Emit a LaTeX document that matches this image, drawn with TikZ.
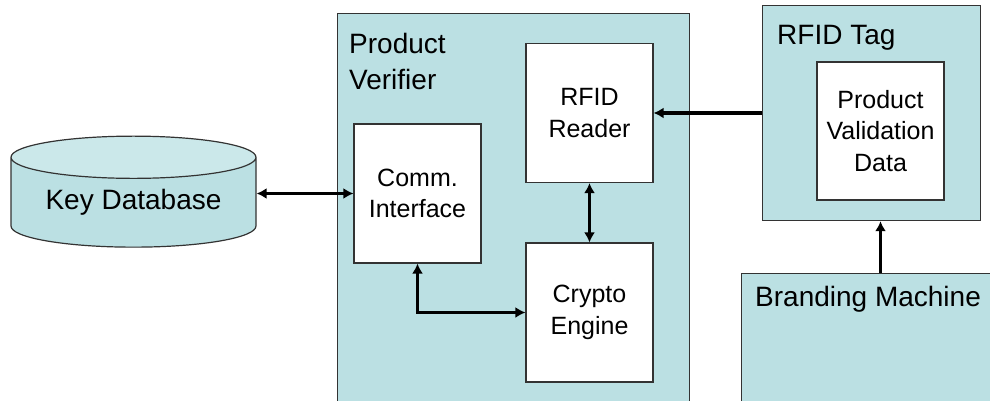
\documentclass[tikz,border=0pt]{standalone}
\usepackage{fontspec}
\setmainfont{Liberation Sans}
\usetikzlibrary{shapes.geometric,arrows.meta}
\definecolor{tealfill}{HTML}{BBE0E3}
\definecolor{tealtop}{HTML}{CBE8EA}
\definecolor{edgec}{HTML}{333333}
\begin{document}
\begin{tikzpicture}[x=1pt,y=-1pt,
  container/.style={draw=edgec, fill=tealfill, line width=1.2pt, inner sep=0pt, anchor=north west},
  innerbox/.style={draw=edgec, fill=white, line width=1.2pt, minimum width=127pt, minimum height=139pt, inner sep=0pt, align=center, font=\fontsize{25}{31.5}\selectfont},
  titletext/.style={inner sep=0pt, anchor=north west, align=left, font=\fontsize{28}{36}\selectfont},
  biarrow/.style={line width=3.2pt, {Latex[length=10pt,width=11pt]}-{Latex[length=10pt,width=11pt]}},
  onearrow/.style={line width=3.2pt, -{Latex[length=10pt,width=11pt]}}]
\path[use as bounding box, clip] (0,0) rectangle (990,401);
% containers
\node[container, minimum width=352pt, minimum height=420pt] (pv) at (337,13) {};
\node[titletext] (pvtitle) at (349,33) {Product\\Verifier};
\node[container, minimum width=218pt, minimum height=215pt] (tag) at (762,5) {};
\node[titletext] (tagtitle) at (777,25) {RFID Tag};
\node[container, minimum width=280pt, minimum height=160pt] (bm) at (741,273) {};
\node[titletext] (bmtitle) at (755,286) {Branding Machine};
% database
\node[cylinder, shape border rotate=90, aspect=0.24, draw=edgec, line width=1.2pt,
  cylinder uses custom fill, cylinder body fill=tealfill, cylinder end fill=tealtop,
  minimum width=245pt, minimum height=111pt, inner sep=0pt,
  font=\fontsize{28}{34}\selectfont] (kdb) at (133.5,202.5) {Key Database};
% inner boxes
\node[innerbox] (reader) at (589.5,113) {RFID\\Reader};
\node[innerbox] (comm) at (417.5,193.5) {Comm.\\Interface};
\node[innerbox] (crypto) at (589.5,312.5) {Crypto\\Engine};
\node[innerbox, minimum height=138pt] (pvd) at (880.5,131) {Product\\Validation\\Data};
% connectors
\draw[biarrow] (kdb.east |- comm.west) -- (comm.west);
\draw[biarrow] (reader.south) -- (crypto.north);
\draw[biarrow] (comm.south) |- (crypto.west);
\draw[onearrow] (tag.west |- reader.east) -- (reader.east);
\draw[onearrow] (bm.north west -| pvd.south) -- (pvd.south |- tag.south west);
\end{tikzpicture}
\end{document}
